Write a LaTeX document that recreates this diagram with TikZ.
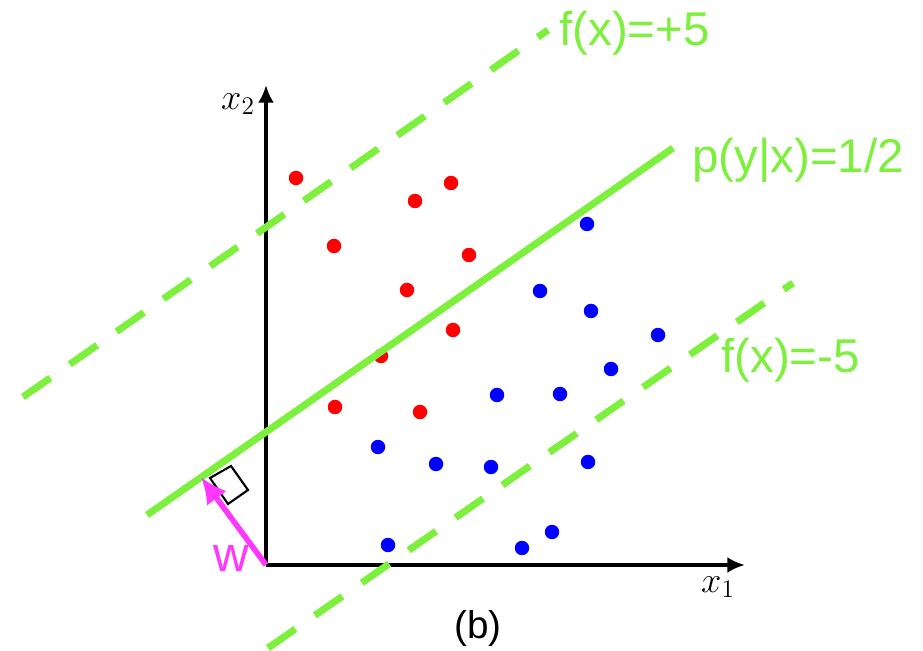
\documentclass[tikz,border=0pt]{standalone}
\usepackage{fontspec}
\newfontfamily\labelfont{Liberation Sans}
\usetikzlibrary{arrows.meta}
\definecolor{bndgreen}{HTML}{7CF03C}
\definecolor{wmagenta}{HTML}{FF38FF}

\begin{document}
\begin{tikzpicture}[
  x=0.02cm, y=-0.02cm,
  reddot/.style={circle, fill=red, inner sep=0pt, minimum size=0.29cm},
  bluedot/.style={circle, fill=blue, inner sep=0pt, minimum size=0.29cm},
  bound/.style={bndgreen, line width=4pt},
  margin/.style={bound, dash pattern=on 19pt off 13.5pt},
  axis/.style={-{Latex[length=10pt,width=9pt]}, line width=2.2pt},
  glabel/.style={text=bndgreen, anchor=west, inner sep=0pt, font=\labelfont\fontsize{27}{31}\selectfont}
]
\useasboundingbox (0,0) rectangle (923,651);

% Axes
\coordinate (O) at (266,565);
\coordinate (xend) at (745,565);
\coordinate (yend) at (266,85);
\draw[axis] (O) -- (xend);
\draw[axis] (O) -- (yend);
\node[font=\fontsize{20}{24}\selectfont] (lblx1) at (718,587) {$x_1$};
\node[font=\fontsize{20}{24}\selectfont] (lblx2) at (238,104) {$x_2$};

% Class 1 points
\foreach \x/\y [count=\n] in {296/178, 451/183, 415/201, 334/246, 469/255, 407/290, 453/330, 381/356, 335/407, 420/412} {
  \node[reddot] (r\n) at (\x,\y) {};
}

% Class 2 points
\foreach \x/\y [count=\n] in {587/224, 540/291, 591/311, 658/335, 611/369, 497/395, 560/394, 378/447, 436/464, 491/467, 588/462, 388/545, 522/548, 552/532} {
  \node[bluedot] (b\n) at (\x,\y) {};
}

% Margins and decision boundary
\coordinate (upA) at (23,397);
\coordinate (upB) at (548,30);
\coordinate (loA) at (268,648);
\coordinate (loB) at (793,283);
\coordinate (midA) at (147,515);
\coordinate (midB) at (673,148);
\draw[margin] (upA) -- (upB);
\draw[margin] (loA) -- (loB);
\draw[bound] (midA) -- (midB);

\node[glabel] (lblpos) at (559,33) {f(x)=+5};
\node[glabel] (lblmid) at (692,160) {p(y|x)=1/2};
\node[glabel] (lblneg) at (721,360) {f(x)=-5};

% Normal vector w
\draw[fill=white, line width=1.2pt] (210,478) -- (231,466) -- (248,490) -- (228,504) -- cycle;
\coordinate (wtip) at (201,477);
\draw[wmagenta, line width=3.2pt, -{Latex[length=15pt,width=14pt]}] (O) -- (wtip);
\node[text=wmagenta, font=\labelfont\fontsize{28}{32}\selectfont] (lblw) at (231,559) {w};

\node[font=\labelfont\fontsize{22}{26}\selectfont] (lblb) at (478,628) {(b)};
\end{tikzpicture}
\end{document}
